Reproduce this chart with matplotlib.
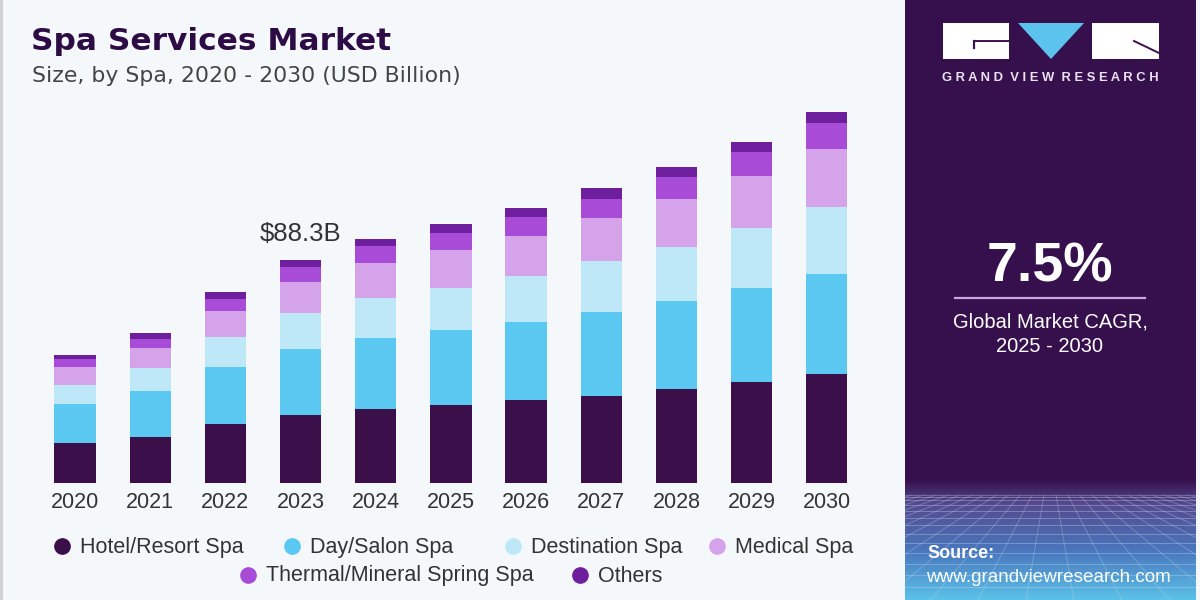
import numpy as np
import matplotlib
matplotlib.use("Agg")
import matplotlib.pyplot as plt
from matplotlib.patches import Rectangle, Polygon

# ---------------- data ----------------
years = ["2020", "2021", "2022", "2023", "2024", "2025", "2026", "2027", "2028", "2029", "2030"]
segments = ["Hotel/Resort Spa", "Day/Salon Spa", "Destination Spa", "Medical Spa",
            "Thermal/Mineral Spring Spa", "Others"]
hotel_resort = [15.6, 18.2, 23.1, 26.8, 29.2, 30.8, 32.7, 34.5, 37.0, 39.8, 42.9]
day_salon = [15.6, 18.3, 22.6, 26.2, 28.1, 29.8, 30.8, 33.1, 35.0, 37.5, 39.8]
destination = [7.5, 8.9, 11.9, 14.2, 15.9, 16.6, 18.4, 20.1, 21.6, 23.8, 26.7]
medical = [7.0, 7.9, 10.4, 12.5, 13.9, 14.9, 16.0, 17.2, 18.9, 20.5, 22.8]
thermal = [3.2, 3.8, 5.0, 5.8, 6.6, 7.1, 7.5, 7.7, 8.6, 9.4, 10.3]
others = [1.7, 2.4, 2.5, 2.8, 2.9, 3.3, 3.6, 4.2, 4.2, 4.2, 4.6]
highlight_year = "2023"
highlight_label = "$88.3B"
cagr_text = "7.5%"

colors = ["#3A0F4A", "#5BC8F1", "#BEE8F8", "#D4A3EA", "#A84CD8", "#6E1F9E"]
series = [hotel_resort, day_salon, destination, medical, thermal, others]

BG = "#F5F8FB"
PANEL = "#36104C"
TXT = "#333333"

fig = plt.figure(figsize=(12, 6), dpi=100)
fig.patch.set_facecolor(BG)

# background / decoration axes in pixel coordinates
bg = fig.add_axes([0, 0, 1, 1])
bg.set_xlim(0, 1200)
bg.set_ylim(600, 0)
bg.axis("off")
bg.set_zorder(0)

# left grey border
bg.add_patch(Rectangle((0, 0), 3, 600, color="#CFCFD4", lw=0))
# right panel
bg.add_patch(Rectangle((905, 0), 291, 600, color=PANEL, lw=0))
# gradient at bottom of panel
grad = np.linspace(0, 1, 200)[:, None]
c0 = np.array([0x36, 0x10, 0x4C]) / 255
c1 = np.array([0x55, 0x4A, 0x8E]) / 255
c2 = np.array([0x4A, 0x78, 0xBE]) / 255
c3 = np.array([0x5C, 0xC2, 0xE8]) / 255
def mix(t):
    out = np.zeros((len(t), 1, 3))
    for i, v in enumerate(t[:, 0]):
        if v < 0.2:
            k = v / 0.2
            col = c0 * (1 - k) + c1 * k
        elif v < 0.6:
            k = (v - 0.2) / 0.4
            col = c1 * (1 - k) + c2 * k
        else:
            k = (v - 0.6) / 0.4
            col = c2 * (1 - k) + c3 * k
        out[i, 0] = col
    return out
bg.imshow(mix(grad), extent=(905, 1196, 600, 480), aspect="auto", zorder=1)
clip = Rectangle((905, 492), 291, 108, transform=bg.transData)
# perspective grid
for yy in np.linspace(0, 1, 14) ** 1.6:
    y = 495 + yy * 105
    ln, = bg.plot([905, 1196], [y, y], color="#C9DDF5", lw=0.7, alpha=0.35, zorder=2)
    ln.set_clip_path(clip)
for xv in np.linspace(-600, 2700, 70):
    ln, = bg.plot([1050 + (xv - 1050) * 0.25, xv], [495, 600], color="#C9DDF5", lw=0.7, alpha=0.3, zorder=2)
    ln.set_clip_path(clip)
bg.plot([905, 1196], [495, 495], color="#6B5FA0", lw=1.0, alpha=0.6, zorder=2)
bg.add_patch(Rectangle((1196, 0), 4, 600, color=BG, lw=0, zorder=3))

# logo
bg.add_patch(Rectangle((943, 23), 66, 36, color="white", lw=0, zorder=4))
bg.add_patch(Polygon([(1018, 23), (1084, 23), (1051, 59)], closed=True, color="#5BC3EE", lw=0, zorder=4))
bg.add_patch(Rectangle((1092, 23), 67, 36, color="white", lw=0, zorder=4))
bg.plot([973.5, 1009], [41, 41], color="#3A1150", lw=1.4, zorder=5)
bg.plot([973.5, 973.5], [41, 47.5], color="#3A1150", lw=1.6, zorder=5)
bg.plot([1134, 1159], [41, 53], color="#3A1150", lw=1.4, zorder=5)
bg.text(1050.5, 78, "G R A N D   V I E W   R E S E A R C H".replace("   ", "  "), color="#E9E2F0",
        fontsize=9.4, fontweight="bold", ha="center", va="center", family="Liberation Sans", zorder=5)

# CAGR
bg.text(1050, 267, cagr_text, color="white", fontsize=40, fontweight="bold",
        ha="center", va="center", family="Liberation Sans", zorder=5)
bg.plot([955, 1145], [298, 298], color="#C7A9DE", lw=1.6, zorder=5)
bg.text(1050, 322, "Global Market CAGR,", color="white", fontsize=14.5,
        ha="center", va="center", family="Liberation Sans", zorder=5)
bg.text(1050, 347, "2025 - 2030", color="white", fontsize=14.5,
        ha="center", va="center", family="Liberation Sans", zorder=5)

# source
bg.text(927, 554, "Source:", color="white", fontsize=13, fontweight="bold",
        ha="left", va="center", family="Liberation Sans", zorder=5)
bg.text(926, 577, "www.grandviewresearch.com", color="white", fontsize=13.6,
        ha="left", va="center", family="Liberation Sans", zorder=5)

# titles
bg.text(31, 41, "Spa Services Market", color="#2D0C46", fontsize=22.5, fontweight="bold",
        ha="left", va="center", family="DejaVu Sans", zorder=5)
bg.text(32, 76, "Size, by Spa, 2020 - 2030 (USD Billion)", color="#444444", fontsize=15.8,
        ha="left", va="center", family="DejaVu Sans", zorder=5)

# ---------------- chart ----------------
ax = fig.add_axes([29.9 / 1200, 117.5 / 600, 842.0 / 1200, 378.0 / 600])
ax.set_zorder(2)
ax.patch.set_alpha(0)
x = np.arange(len(years))
bottom = np.zeros(len(years))
for vals, col, name in zip(series, colors, segments):
    ax.bar(x, vals, width=0.55, bottom=bottom, color=col, edgecolor="none", label=name)
    bottom += np.array(vals)
ax.set_xlim(-0.6, len(years) - 0.4)
ax.set_ylim(0, 150)
for s in ax.spines.values():
    s.set_visible(False)
ax.set_yticks([])
ax.set_xticks(x)
ax.set_xticklabels(years, fontsize=15.5, color=TXT, family="Liberation Sans")
ax.tick_params(axis="x", length=0, pad=7)

hi = years.index(highlight_year)
ax.annotate(highlight_label, xy=(hi, bottom[hi]), xytext=(0, 10), textcoords="offset points",
            ha="center", va="bottom", fontsize=18.5, color=TXT, family="Liberation Sans")

# legend (manual, two centered rows)
leg_items = [
    (62, 546, 0), (292, 546, 1), (513, 546, 2), (717, 546, 3),
    (248, 575, 4), (580, 575, 5),
]
for px, py, i in leg_items:
    bg.plot([px], [py], marker="o", markersize=11, color=colors[i], lw=0, zorder=5)
    bg.text(px + 18, py + 1, segments[i], color=TXT, fontsize=15.5, ha="left", va="center",
            family="Liberation Sans", zorder=5)

fig.savefig("out.png", dpi=100, facecolor=fig.get_facecolor())
